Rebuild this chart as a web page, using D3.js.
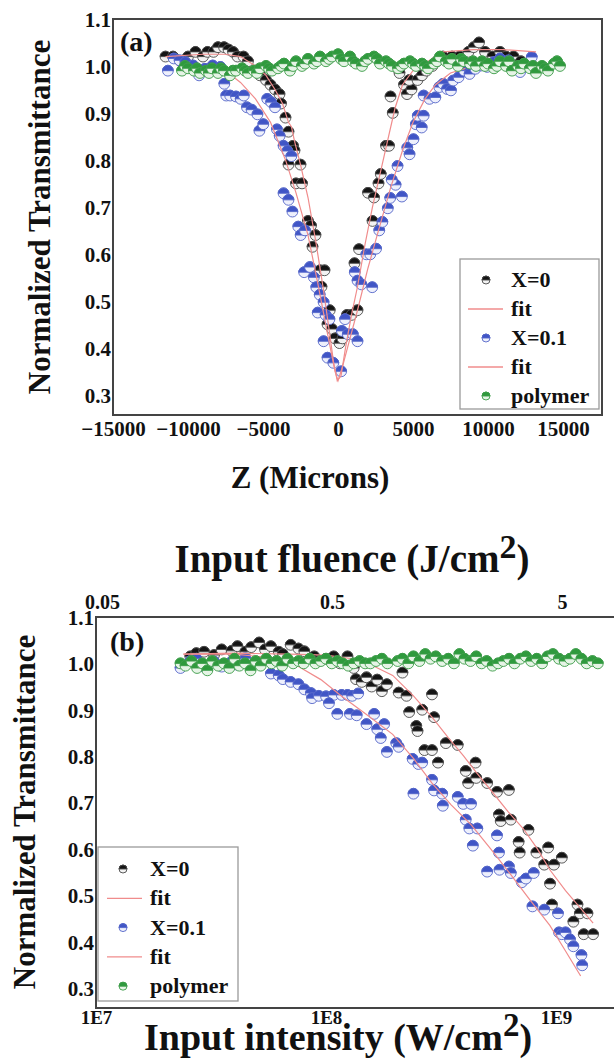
<!DOCTYPE html>
<html><head><meta charset="utf-8">
<script src="https://cdn.jsdelivr.net/npm/d3@7/dist/d3.min.js"></script>
<style>
html,body{margin:0;padding:0;background:#fff;}
svg{display:block;}
svg text{font-family:"Liberation Serif","Times New Roman",Times,"DejaVu Serif",serif !important;font-weight:bold;fill:#111;}
</style></head>
<body>
<svg id="c" width="614" height="1061"></svg>
<script>
// ---------- DATA: panel (a) Z-scan ----------
const aXTicks = [-15000,-10000,-5000,0,5000,10000,15000];
const aYTicks = [0.3,0.4,0.5,0.6,0.7,0.8,0.9,1.0,1.1];
const aX0 = [[-11500,1.02],[-11000,1.02],[-10500,1.01],[-10000,1.02],[-9500,1.03],[-9000,1.02],[-8700,1.03],[-8300,1.03],[-8000,1.04],[-7600,1.04],[-7300,1.035],[-7000,1.03],[-6700,1.02],[-6300,1.02],[-6000,1.01],[-5500,0.99],[-5200,0.98],[-4800,0.97],[-4500,0.96],[-4200,0.95],[-3900,0.94],[-3800,0.92],[-3500,0.89],[-3300,0.86],[-3000,0.83],[-2900,0.82],[-3300,0.79],[-2500,0.79],[-2800,0.75],[-2400,0.75],[-2000,0.67],[-1800,0.66],[-1700,0.615],[-1500,0.64],[-1200,0.565],[-900,0.565],[-1100,0.53],[-550,0.48],[-700,0.45],[-400,0.44],[-200,0.42],[100,0.41],[300,0.42],[600,0.47],[900,0.47],[1300,0.48],[1100,0.58],[1400,0.61],[2300,0.67],[2000,0.73],[2400,0.72],[2700,0.75],[2850,0.77],[3200,0.83],[3400,0.83],[3500,0.935],[3650,0.90],[4100,0.985],[4400,0.96],[4600,0.94],[4900,0.95],[4750,0.97],[5300,0.97],[5600,0.98],[5900,0.99],[6300,1.0],[6600,1.01],[7000,1.02],[7600,1.02],[8100,1.02],[8700,1.03],[9050,1.04],[9400,1.05],[9800,1.03],[10300,1.02],[10800,1.03],[11200,1.02],[11700,1.02],[12200,1.01]];
const aX01 = [[-11340,0.99],[-10950,1.016],[-10560,1.012],[-10170,1.008],[-9650,1.001],[-9260,0.98],[-8875,0.994],[-8355,1.001],[-7840,0.998],[-7580,0.962],[-7450,0.937],[-7190,0.937],[-6800,0.935],[-6490,0.93],[-6280,0.937],[-6070,0.912],[-5760,0.907],[-5370,0.897],[-5240,0.862],[-4980,0.876],[-4720,0.93],[-4460,0.923],[-4200,0.912],[-4070,0.865],[-3890,0.851],[-3630,0.83],[-3370,0.819],[-3110,0.808],[-3630,0.729],[-3300,0.715],[-3040,0.69],[-2650,0.658],[-2490,0.64],[-2200,0.65],[-2260,0.561],[-1870,0.572],[-1610,0.55],[-1450,0.529],[-1220,0.513],[-960,0.497],[-1350,0.475],[-830,0.47],[-570,0.461],[-960,0.414],[-700,0.379],[-310,0.368],[210,0.35],[260,0.436],[470,0.461],[650,0.429],[990,0.429],[1300,0.414],[1120,0.561],[1300,0.543],[1560,0.535],[1890,0.599],[2150,0.599],[2280,0.529],[2540,0.611],[2750,0.65],[2960,0.668],[3320,0.697],[3480,0.719],[3840,0.747],[4260,0.722],[3580,0.758],[3970,0.787],[4620,0.826],[4770,0.812],[5030,0.844],[5190,0.876],[5320,0.894],[5710,0.894],[5580,0.869],[5710,0.937],[6100,0.93],[6490,0.933],[6750,0.955],[7010,0.962],[7270,0.951],[7530,0.948],[7680,0.969],[8040,0.976],[8410,0.99],[8770,0.983],[9160,0.994],[9550,1.001],[9940,0.998],[10380,1.008],[10800,1.016],[11370,1.012],[12140,0.987],[12920,1.019]];
const aPoly = [[-10400,0.99],[-10200,1.0],[-10000,0.995],[-9600,0.99],[-9400,0.995],[-9200,0.985],[-8800,0.99],[-8600,0.985],[-8400,0.995],[-8000,0.985],[-7800,0.995],[-7600,0.99],[-7200,0.98],[-7000,0.99],[-6800,0.99],[-6400,0.995],[-6200,0.99],[-6000,0.985],[-5600,0.99],[-5400,0.985],[-5200,0.995],[-4800,1.0],[-4600,0.995],[-4400,0.99],[-4000,0.995],[-3800,1.0],[-3600,1.005],[-3200,0.99],[-3000,1.0],[-2800,1.01],[-2400,1.0],[-2200,1.005],[-2000,1.015],[-1600,1.005],[-1400,1.01],[-1200,1.02],[-800,1.01],[-600,1.015],[-400,1.02],[0,1.025],[200,1.015],[400,1.01],[800,1.02],[1000,1.01],[1200,1.005],[1600,1.0],[1800,1.01],[2000,1.015],[2400,1.02],[2600,1.015],[2800,1.005],[3200,1.01],[3400,1.005],[3600,1.0],[4000,0.995],[4200,1.0],[4400,1.005],[4800,1.01],[5000,1.005],[5200,1.0],[5600,1.005],[5800,1.0],[6000,0.995],[6400,1.005],[6600,1.01],[6800,1.02],[7200,1.01],[7400,1.005],[7600,1.015],[8000,1.0],[8200,1.015],[8400,1.01],[8800,1.005],[9000,1.01],[9200,1.0],[9600,1.01],[9800,1.0],[10000,1.005],[10400,0.995],[10600,1.0],[10800,1.01],[11200,1.0],[11400,1.01],[11600,0.99],[12000,1.0],[12200,0.995],[12400,1.005],[12800,0.995],[13000,1.0],[13200,0.985],[13600,1.0],[13800,0.995],[14000,0.99],[14400,1.005],[14600,1.01],[14800,1.0]];
const aFit0 = [[-11500,1.02],[-9000,1.025],[-7500,1.025],[-6500,1.02],[-5500,1.0],[-4800,0.98],[-4200,0.95],[-3700,0.92],[-3300,0.88],[-3100,0.87],[-2900,0.84],[-2500,0.79],[-2000,0.72],[-1500,0.63],[-1000,0.53],[-600,0.44],[-300,0.37],[-50,0.33],[200,0.34],[500,0.40],[900,0.47],[1300,0.53],[1800,0.62],[2300,0.70],[2800,0.77],[3300,0.84],[3800,0.91],[4300,0.96],[5000,0.99],[6000,1.01],[7000,1.03],[9000,1.035],[11000,1.035],[13200,1.03]];
const aFit01 = [[-7500,0.99],[-6500,0.965],[-5500,0.93],[-4500,0.88],[-3500,0.80],[-2800,0.73],[-2000,0.64],[-1300,0.53],[-700,0.43],[-200,0.35],[0,0.33],[300,0.36],[800,0.42],[1300,0.48],[2000,0.57],[2700,0.65],[3500,0.74],[4300,0.82],[5000,0.88],[5800,0.93],[6500,0.96],[7500,0.985],[8500,0.995]];

// ---------- DATA: panel (b) intensity scan ----------
const bXTicks = [1e7,1e8,1e9];
const bXTickLabels = ["1E7","1E8","1E9"];
const bTopTicks = [0.05,0.5,5];
const bTopTickLabels = ["0.05","0.5","5"];
const bYTicks = [0.3,0.4,0.5,0.6,0.7,0.8,0.9,1.0,1.1];
const bX0 = [[2.57e7,1.015],[2.73e7,1.022],[2.95e7,1.025],[3.26e7,1.018],[3.52e7,1.03],[3.89e7,1.027],[4.12e7,1.037],[4.46e7,1.025],[4.73e7,1.035],[5.12e7,1.045],[5.43e7,1.03],[5.76e7,1.037],[6.23e7,1.025],[6.49e7,1.02],[7.02e7,1.04],[7.59e7,1.032],[8.05e7,1.026],[8.89e7,1.015],[9.25e7,1.005],[1.0e8,1.01],[1.08e8,1.015],[1.15e8,1.0],[1.24e8,1.015],[1.32e8,0.99],[1.35e8,0.966],[1.43e8,0.96],[1.50e8,0.97],[1.58e8,0.95],[1.67e8,0.965],[1.75e8,0.94],[1.84e8,0.955],[2.15e8,0.98],[2.07e8,0.937],[2.24e8,0.93],[2.30e8,0.895],[2.62e8,0.90],[2.89e8,0.933],[2.95e8,0.884],[2.47e8,0.865],[2.50e8,0.854],[2.68e8,0.813],[2.89e8,0.813],[3.07e8,0.786],[3.32e8,0.828],[3.74e8,0.824],[4.05e8,0.768],[4.15e8,0.742],[4.47e8,0.786],[4.50e8,0.753],[5.02e8,0.742],[5.54e8,0.723],[6.24e8,0.727],[5.65e8,0.674],[5.75e8,0.66],[6.36e8,0.663],[6.88e8,0.615],[7.59e8,0.641],[6.95e8,0.592],[8.22e8,0.592],[9.25e8,0.603],[8.89e8,0.566],[9.8e8,0.566],[1.06e9,0.581],[9.42e8,0.525],[9.6e8,0.48],[1.24e9,0.48],[1.27e9,0.461],[1.37e9,0.461],[1.32e9,0.416],[1.45e9,0.416],[1.19e9,0.443]];
const bX01 = [[2.33e7,0.99],[2.57e7,1.005],[2.73e7,1.01],[2.95e7,0.993],[3.26e7,1.004],[3.52e7,0.993],[3.89e7,1.004],[4.12e7,0.997],[4.46e7,1.011],[5.12e7,1.0],[5.76e7,0.978],[6.23e7,0.974],[6.49e7,0.966],[7.02e7,0.96],[7.59e7,0.955],[8.05e7,0.944],[8.6e7,0.936],[8.7e7,0.925],[9.3e7,0.93],[1.0e8,0.929],[1.08e8,0.932],[1.03e8,0.914],[1.12e8,0.891],[1.17e8,0.932],[1.24e8,0.932],[1.30e8,0.93],[1.38e8,0.935],[1.27e8,0.891],[1.36e8,0.888],[1.50e8,0.869],[1.62e8,0.891],[1.67e8,0.858],[1.79e8,0.869],[1.84e8,0.809],[2.02e8,0.828],[2.07e8,0.82],[1.73e8,0.839],[2.38e8,0.794],[2.52e8,0.783],[2.62e8,0.786],[2.40e8,0.719],[2.89e8,0.749],[2.95e8,0.726],[3.20e8,0.719],[3.22e8,0.693],[3.74e8,0.712],[3.95e8,0.697],[4.05e8,0.663],[4.27e8,0.697],[4.20e8,0.644],[4.55e8,0.644],[4.35e8,0.607],[5.54e8,0.629],[5.65e8,0.592],[5.68e8,0.555],[5.02e8,0.551],[6.24e8,0.562],[6.36e8,0.548],[7.1e8,0.528],[7.4e8,0.536],[8.0e8,0.548],[7.9e8,0.476],[8.9e8,0.469],[1.02e9,0.461],[1.03e9,0.42],[1.06e9,0.416],[1.10e9,0.42],[1.15e9,0.405],[1.19e9,0.39],[1.29e9,0.371],[1.30e9,0.349]];
const bPoly = [[2.33e7,1.0],[2.45e7,0.995],[2.6e7,1.005],[2.75e7,0.99],[2.9e7,1.0],[3.05e7,0.985],[3.2e7,1.005],[3.4e7,0.995],[3.6e7,1.0],[3.8e7,0.99],[4.0e7,1.01],[4.2e7,0.995],[4.45e7,1.0],[4.7e7,0.985],[4.95e7,1.005],[5.2e7,0.995],[5.5e7,1.01],[5.8e7,1.0],[6.1e7,1.005],[6.45e7,0.995],[6.8e7,1.01],[7.2e7,1.0],[7.6e7,1.005],[8.0e7,1.0],[8.5e7,1.01],[9.0e7,1.0],[9.5e7,1.005],[1.0e8,1.01],[1.06e8,1.0],[1.12e8,1.005],[1.18e8,1.0],[1.25e8,0.995],[1.32e8,1.0],[1.40e8,1.005],[1.48e8,1.0],[1.56e8,1.0],[1.65e8,1.005],[1.75e8,1.01],[1.85e8,1.0],[2.05e8,1.005],[2.15e8,1.01],[2.28e8,1.0],[2.4e8,1.015],[2.55e8,1.005],[2.7e8,1.02],[2.85e8,1.01],[3.0e8,1.015],[3.2e8,1.005],[3.4e8,1.01],[3.6e8,1.0],[3.8e8,1.02],[4.0e8,1.01],[4.25e8,1.005],[4.5e8,1.015],[4.75e8,1.0],[5.0e8,1.005],[5.3e8,0.995],[5.6e8,1.0],[5.9e8,1.005],[6.25e8,1.01],[6.6e8,1.0],[7.0e8,1.01],[7.4e8,1.015],[7.8e8,1.005],[8.25e8,1.01],[8.7e8,1.0],[9.2e8,1.015],[9.7e8,1.02],[1.03e9,1.01],[1.09e9,1.005],[1.15e9,1.01],[1.22e9,1.02],[1.29e9,1.01],[1.36e9,1.0],[1.44e9,1.005],[1.52e9,1.0]];
const bFit0 = [[2.4e7,1.02],[4e7,1.022],[7e7,1.02],[1.0e8,1.018],[1.3e8,1.01],[1.6e8,0.995],[1.95e8,0.974],[2.4e8,0.93],[2.89e8,0.884],[3.4e8,0.84],[3.97e8,0.80],[4.5e8,0.765],[5.2e8,0.727],[6.2e8,0.68],[7.2e8,0.644],[8.3e8,0.60],[9.4e8,0.555],[1.1e9,0.51],[1.28e9,0.472],[1.45e9,0.44]];
const bFit01 = [[2.4e7,1.02],[4e7,1.02],[5.8e7,1.012],[7.5e7,0.995],[9.5e7,0.965],[1.17e8,0.929],[1.5e8,0.89],[1.95e8,0.847],[2.4e8,0.795],[2.89e8,0.742],[3.5e8,0.695],[4.28e8,0.652],[5.2e8,0.60],[6.3e8,0.547],[7.7e8,0.49],[9.4e8,0.435],[1.1e9,0.38],[1.28e9,0.326]];

// ---------- legend ----------
const legendItems = [
  {label:"X=0", type:"pt", key:"black"},
  {label:"fit", type:"line"},
  {label:"X=0.1", type:"pt", key:"blue"},
  {label:"fit", type:"line"},
  {label:"polymer", type:"pt", key:"green"}
];

const COL = {
  black:{top:"#141414", bot:"#f2f2f2", stroke:"#4a4a4a"},
  blue:{top:"#4055c6", bot:"#eef0fc", stroke:"#5465c8"},
  green:{top:"#2f9a3d", bot:"#e6f4e6", stroke:"#3c9c48"}
};
const FIT = "#f08c8c";
const FONT = "Liberation Serif, Times New Roman, Times, DejaVu Serif, serif";

const svg = d3.select("#c");

function halfMarker(g, x, y, r, c) {
  g.append("circle").attr("cx",x).attr("cy",y).attr("r",r)
    .attr("fill",c.bot).attr("stroke",c.stroke).attr("stroke-width",0.9);
  g.append("path")
    .attr("d",`M${x-r},${y} A${r},${r} 0 0 1 ${x+r},${y} Z`)
    .attr("fill",c.top).attr("stroke",c.stroke).attr("stroke-width",0.9);
}

function drawSeries(g, data, xs, ys, c) {
  data.forEach(d => halfMarker(g, xs(d[0]), ys(d[1]), 5.4, c));
}
function drawFit(g, data, xs, ys) {
  g.append("path").datum(data)
    .attr("d", d3.line().x(d=>xs(d[0])).y(d=>ys(d[1])))
    .attr("fill","none").attr("stroke",FIT).attr("stroke-width",1.2);
}
function txt(g) {
  return g.append("text").attr("font-family",FONT).attr("font-weight","bold").attr("fill","#111");
}
function styleAxisText(sel, size) {
  sel.selectAll("text").attr("font-size",size).attr("font-family",FONT)
    .attr("font-weight","bold").attr("fill","#111");
}

function drawLegend(g, x0, y0, w, h, rows) {
  g.append("rect").attr("x",x0).attr("y",y0).attr("width",w).attr("height",h)
    .attr("fill","#fff").attr("stroke","#9a9a9a").attr("stroke-width",1.3);
  legendItems.forEach((it,i) => {
    const y = rows.y0 + i*rows.dy;
    if (it.type==="pt") halfMarker(g, rows.mx, y, 4, COL[it.key]);
    else g.append("line").attr("x1",rows.lx1).attr("x2",rows.lx2).attr("y1",y).attr("y2",y)
      .attr("stroke",FIT).attr("stroke-width",1.3);
    txt(g).attr("x",rows.tx).attr("y",y+7).attr("font-size",22).text(it.label);
  });
}

// ================= Panel (a) =================
{
  const L=113, R=602, T=19, B=415;
  const x = d3.scaleLinear().domain([-15000,17600]).range([L,R]);
  const y = d3.scaleLinear().domain([0.257,1.1]).range([B,T]);
  const g = svg.append("g");
  svg.append("clipPath").attr("id","ca").append("rect")
    .attr("x",L).attr("y",T).attr("width",R-L).attr("height",B-T);
  const pg = g.append("g").attr("clip-path","url(#ca)");
  drawSeries(pg, aX0, x, y, COL.black);
  drawSeries(pg, aX01, x, y, COL.blue);
  drawFit(pg, aFit0, x, y);
  drawFit(pg, aFit01, x, y);
  drawSeries(pg, aPoly, x, y, COL.green);

  g.append("rect").attr("x",L).attr("y",T).attr("width",R-L).attr("height",B-T)
    .attr("fill","none").attr("stroke","#444").attr("stroke-width",2);

  const xa = d3.axisBottom(x).tickValues(aXTicks).tickSize(0).tickPadding(0).tickFormat(d3.format("d"));
  const gx = g.append("g").attr("transform",`translate(0,${B})`).call(xa);
  gx.select(".domain").remove();
  gx.selectAll("text").attr("dy",null).attr("y",21);
  styleAxisText(gx, 21);

  const ya = d3.axisLeft(y).tickValues(aYTicks).tickSize(0).tickPadding(2).tickFormat(d3.format(".1f"));
  const gy = g.append("g").attr("transform",`translate(${L},0)`).call(ya);
  gy.select(".domain").remove();
  gy.selectAll("text").attr("dy","0.35em");
  styleAxisText(gy, 21);

  txt(g).attr("x",120).attr("y",51).attr("font-size",28).text("(a)");
  txt(g).attr("x",310).attr("y",488).attr("text-anchor","middle").attr("font-size",31).text("Z (Microns)");
  txt(g).attr("transform","translate(50,217) rotate(-90)").attr("text-anchor","middle")
    .attr("font-size",31).text("Normalized Transmittance");

  drawLegend(g, 460, 259, 139, 150, {y0:280, dy:29, mx:486, lx1:468, lx2:503, tx:511});
}

// ================= Panel (b) =================
{
  const L=96, T=617, B=1008;
  const x = d3.scaleLog().domain([1e7,1e10]).range([L,L+690]);
  const xf = d3.scaleLog().domain([0.05,50]).range([L,L+690]);
  const y = d3.scaleLinear().domain([0.257,1.1]).range([B,T]);
  const R = 620;
  const g = svg.append("g");
  svg.append("clipPath").attr("id","cb").append("rect")
    .attr("x",L).attr("y",T).attr("width",R-L).attr("height",B-T);
  const pg = g.append("g").attr("clip-path","url(#cb)");
  drawSeries(pg, bX0, x, y, COL.black);
  drawSeries(pg, bX01, x, y, COL.blue);
  drawFit(pg, bFit0, x, y);
  drawFit(pg, bFit01, x, y);
  drawSeries(pg, bPoly, x, y, COL.green);

  g.append("rect").attr("x",L).attr("y",T).attr("width",R-L).attr("height",B-T)
    .attr("fill","none").attr("stroke","#444").attr("stroke-width",2);

  const xa = d3.axisBottom(x).tickValues(bXTicks).tickSize(0).tickPadding(0)
    .tickFormat((d,i)=>bXTickLabels[i]);
  const gx = g.append("g").attr("transform",`translate(0,${B})`).call(xa);
  gx.select(".domain").remove();
  gx.selectAll("text").attr("dy",null).attr("y",16);
  styleAxisText(gx, 19);

  const xt = d3.axisTop(xf).tickValues(bTopTicks).tickSize(0).tickPadding(0)
    .tickFormat((d,i)=>bTopTickLabels[i]);
  const gt = g.append("g").attr("transform",`translate(6,${T})`).call(xt);
  gt.select(".domain").remove();
  gt.selectAll("text").attr("y",-8);
  styleAxisText(gt, 20);

  const ya = d3.axisLeft(y).tickValues(bYTicks).tickSize(0).tickPadding(2).tickFormat(d3.format(".1f"));
  const gy = g.append("g").attr("transform",`translate(${L},0)`).call(ya);
  gy.select(".domain").remove();
  gy.selectAll("text").attr("dy","0.35em");
  styleAxisText(gy, 21);

  txt(g).attr("x",110).attr("y",651).attr("font-size",28).text("(b)");

  const t1 = txt(g).attr("x",352).attr("y",572).attr("text-anchor","middle").attr("font-size",39);
  t1.append("tspan").text("Input fluence (J/cm");
  t1.append("tspan").attr("dy",-14).attr("font-size",34).text("2");
  t1.append("tspan").attr("dy",14).text(")");

  const t2 = txt(g).attr("x",338).attr("y",1050).attr("text-anchor","middle").attr("font-size",38);
  t2.append("tspan").text("Input intensity (W/cm");
  t2.append("tspan").attr("dy",-14).attr("font-size",33).text("2");
  t2.append("tspan").attr("dy",14).text(")");

  txt(g).attr("transform","translate(35,812) rotate(-90)").attr("text-anchor","middle")
    .attr("font-size",31).text("Normalized Transmittance");

  drawLegend(g, 98, 847, 140, 154, {y0:869, dy:29.3, mx:123, lx1:107, lx2:142, tx:150});
}
</script>
</body></html>
